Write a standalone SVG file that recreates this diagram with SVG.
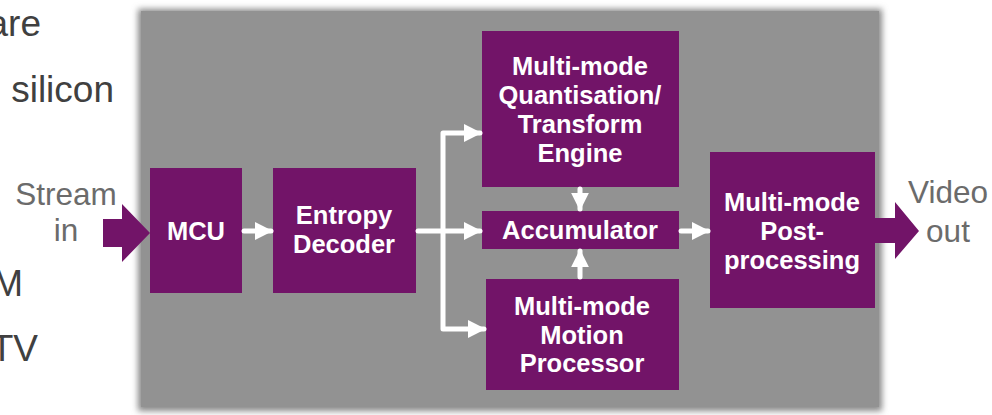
<svg xmlns="http://www.w3.org/2000/svg" width="992" height="415" viewBox="0 0 992 415">
<defs>
<filter id="soft" x="-5%" y="-5%" width="110%" height="110%"><feGaussianBlur stdDeviation="3"/></filter>
<marker id="ah" viewBox="0 0 10 10" refX="9" refY="5" markerWidth="3.6" markerHeight="3.6" markerUnits="strokeWidth" orient="auto"><path d="M0,0 L10,5 L0,10 z" fill="#ffffff"/></marker>
</defs>
<style>
.box{fill:#721468}
.lbl{font-family:"Liberation Sans",Arial,sans-serif;font-weight:bold;font-size:25.5px;fill:#ffffff;text-anchor:middle}
.side{font-family:"Liberation Sans",Arial,sans-serif;font-size:31.5px;fill:#6b6b6b;text-anchor:middle}
.bg{font-family:"Liberation Sans",Arial,sans-serif;font-size:37px;fill:#404040;text-anchor:end}
.con{stroke:#ffffff;stroke-width:5;fill:none;stroke-linecap:round;stroke-linejoin:round}
</style>
<rect width="992" height="415" fill="#ffffff"/>
<text class="bg" x="41" y="36">are</text>
<text class="bg" x="114" y="102">silicon</text>
<text class="bg" x="23" y="296">M</text>
<text class="bg" x="38" y="361">TV</text>
<rect x="138" y="9" width="744" height="402" fill="#888888" filter="url(#soft)"/>
<rect x="141" y="11" width="738" height="396" fill="#929292"/>
<g id="stream-in">
<text class="side" x="66" y="205">Stream</text>
<text class="side" x="66" y="241">in</text>
<path class="box" d="M103,219 H122 V204 L150,233 L122,262 V247 H103 z"/>
</g>
<g id="video-out">
<text class="side" x="948" y="203">Video</text>
<text class="side" x="948" y="242">out</text>
<path class="box" d="M875,218 H895 V202 L919,231 L895,259 V243 H875 z"/>
</g>
<g id="mcu">
<rect class="box" x="150" y="168" width="92" height="125"/>
<text class="lbl" x="196" y="240">MCU</text>
</g>
<g id="entropy">
<rect class="box" x="273" y="168" width="143" height="125"/>
<text class="lbl" x="344" y="224">Entropy</text>
<text class="lbl" x="344" y="253">Decoder</text>
</g>
<g id="quant">
<rect class="box" x="482" y="31" width="197" height="156"/>
<text class="lbl" x="580" y="75">Multi-mode</text>
<text class="lbl" x="580" y="104">Quantisation/</text>
<text class="lbl" x="580" y="133">Transform</text>
<text class="lbl" x="580" y="162">Engine</text>
</g>
<g id="accumulator">
<rect class="box" x="482" y="211" width="197" height="38"/>
<text class="lbl" x="580" y="239">Accumulator</text>
</g>
<g id="motion">
<rect class="box" x="486" y="279" width="193" height="111"/>
<text class="lbl" x="582" y="315">Multi-mode</text>
<text class="lbl" x="582" y="344">Motion</text>
<text class="lbl" x="582" y="372">Processor</text>
</g>
<g id="post">
<rect class="box" x="710" y="152" width="165" height="156"/>
<text class="lbl" x="792" y="211">Multi-mode</text>
<text class="lbl" x="792" y="240">Post-</text>
<text class="lbl" x="792" y="269">processing</text>
</g>
<g id="connectors">
<path class="con" d="M244,231 H271" marker-end="url(#ah)"/>
<path class="con" d="M418,231 H480" marker-end="url(#ah)"/>
<path class="con" d="M443,231 V133 H480" marker-end="url(#ah)"/>
<path class="con" d="M443,231 V329 H484" marker-end="url(#ah)"/>
<path class="con" d="M681,231 H708" marker-end="url(#ah)"/>
<path class="con" d="M580,189 V209" marker-end="url(#ah)"/>
<path class="con" d="M580,277 V251" marker-end="url(#ah)"/>
</g>
</svg>
